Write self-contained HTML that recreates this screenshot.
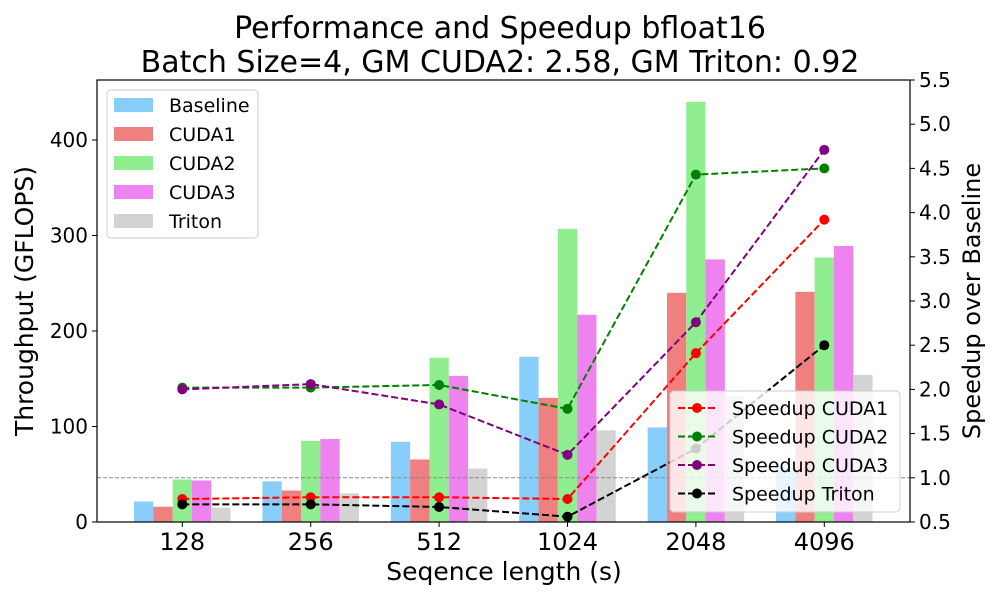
<!DOCTYPE html>
<html><head><meta charset="utf-8"><style>body{margin:0;background:#fff}svg{display:block;font-family:"DejaVu Sans","Liberation Sans",sans-serif}</style></head>
<body>
<svg id="chart" width="1000" height="600" viewBox="0 0 1000 600" xmlns="http://www.w3.org/2000/svg">
<text x="500" y="38" font-size="30" text-anchor="middle">Performance and Speedup bfloat16</text>
<text x="500" y="72" font-size="30" text-anchor="middle">Batch Size=4, GM CUDA2: 2.58, GM Triton: 0.92</text>
<g id="bars"></g><g id="lines"></g><g id="axes"></g><g id="legends"></g>
</svg>
<script>
const categories = ["128","256","512","1024","2048","4096"];
const seriesNames = ["Baseline","CUDA1","CUDA2","CUDA3","Triton"];
const baseline = [21.5,42.5,84,173,99,57];
const cuda1 = [16,33,65.5,130,240,241];
const cuda2 = [44.5,85,172,307,440,277];
const cuda3 = [43.5,87,153,217,275,289];
const triton = [15,30,56,96,131.5,154];
const speedNames = ["Speedup CUDA1","Speedup CUDA2","Speedup CUDA3","Speedup Triton"];
const spCuda1 = [0.76,0.78,0.78,0.76,2.41,3.92];
const spCuda2 = [2.02,2.02,2.05,1.78,4.43,4.50];
const spCuda3 = [2.00,2.06,1.83,1.26,2.76,4.71];
const spTriton = [0.70,0.70,0.67,0.56,1.33,2.50];
const leftTicks = [0,100,200,300,400];
const rightTicks = [0.5,1.0,1.5,2.0,2.5,3.0,3.5,4.0,4.5,5.0,5.5];

const NS="http://www.w3.org/2000/svg";
const L=97,R=910,T=80,B=522;
const step=128.4, first=182.3;
const xc=i=>first+i*step;
const yL=v=>B-v*0.955;
const yR=v=>B-(v-0.5)*(B-T)/5;
const barColors=["#87cefa","#f08080","#90ee90","#ee82ee","#d3d3d3"];
const lineColors=["red","green","purple","black"];
function mk(tag,attrs,parent){const e=document.createElementNS(NS,tag);for(const k in attrs)e.setAttribute(k,attrs[k]);parent.appendChild(e);return e;}
const bars=document.getElementById('bars'),lines=document.getElementById('lines'),axes=document.getElementById('axes'),leg=document.getElementById('legends');
const bw=19.3;
[baseline,cuda1,cuda2,cuda3,triton].forEach((s,j)=>{s.forEach((v,i)=>{
 const r=mk('rect',{x:xc(i)-2.5*bw+j*bw,y:yL(v),width:bw,height:B-yL(v),fill:barColors[j]},bars);
 
 
});});
const ref=mk('line',{x1:L,x2:R,y1:yR(1),y2:yR(1),stroke:'#888','stroke-width':1,'stroke-dasharray':'4,2'},lines);


[spCuda1,spCuda2,spCuda3,spTriton].forEach((s,j)=>{
 const g=mk('g',{},lines);
 
 
 mk('polyline',{points:s.map((v,i)=>xc(i)+','+yR(v)).join(' '),fill:'none',stroke:lineColors[j],'stroke-width':2,'stroke-dasharray':'7,3'},g);
 s.forEach((v,i)=>{const c=mk('circle',{cx:xc(i),cy:yR(v),r:5,fill:lineColors[j]},g);
  
  });
});
mk('rect',{x:L,y:T,width:R-L,height:B-T,fill:'none',stroke:'#000','stroke-width':1.2},axes);
leftTicks.forEach(v=>{mk('line',{x1:L-5,x2:L,y1:yL(v),y2:yL(v),stroke:'#000'},axes);
 const t=mk('text',{x:L-9,y:yL(v)+7,'font-size':20,'text-anchor':'end'},axes);t.textContent=v;
 
 });
rightTicks.forEach(v=>{mk('line',{x1:R,x2:R+5,y1:yR(v),y2:yR(v),stroke:'#000'},axes);
 const t=mk('text',{x:R+9,y:yR(v)+7,'font-size':20},axes);t.textContent=v.toFixed(1);
 
 });
categories.forEach((c,i)=>{mk('line',{x1:xc(i),x2:xc(i),y1:B,y2:B+5,stroke:'#000'},axes);
 const t=mk('text',{x:xc(i),y:550,'font-size':24,'text-anchor':'middle'},axes);t.textContent=c;
 
 });
let t=mk('text',{x:504,y:580,'font-size':25,'text-anchor':'middle'},axes);t.textContent='Seqence length (s)';


t=mk('text',{x:0,y:0,'font-size':25,'text-anchor':'middle',transform:'translate(33,301) rotate(-90)'},axes);t.textContent='Throughput (GFLOPS)';


t=mk('text',{x:0,y:0,'font-size':24,'text-anchor':'middle',transform:'translate(980,301) rotate(-90)'},axes);t.textContent='Speedup over Baseline';


let lg=mk('g',{},leg);


mk('rect',{x:107,y:90,width:151,height:148,rx:4,fill:'#fff','fill-opacity':0.85,stroke:'#ccc'},lg);
seriesNames.forEach((n,j)=>{const y=105+j*29;
 const e=mk('g',{},lg);
 
 
 mk('rect',{x:114,y:y-7,width:39,height:14,fill:barColors[j]},e);
 const tt=mk('text',{x:169,y:y+7,'font-size':19},e);tt.textContent=n;});
lg=mk('g',{},leg);


mk('rect',{x:670,y:391,width:230,height:121,rx:4,fill:'#fff','fill-opacity':0.8,stroke:'#ccc'},lg);
speedNames.forEach((n,j)=>{const y=408+j*28.5;
 const e=mk('g',{},lg);
 
 
 mk('line',{x1:678,x2:717,y1:y,y2:y,stroke:lineColors[j],'stroke-width':2,'stroke-dasharray':'7,3'},e);
 mk('circle',{cx:697,cy:y,r:5,fill:lineColors[j]},e);
 const tt=mk('text',{x:732,y:y+7,'font-size':19},e);tt.textContent=n;});
</script>
</body></html>
